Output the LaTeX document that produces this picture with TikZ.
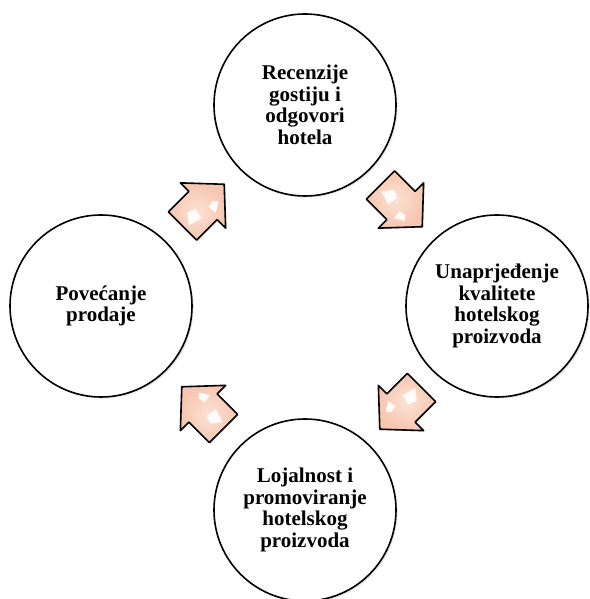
\documentclass[tikz,border=0pt]{standalone}
\usepackage{fontspec}
\setmainfont{Liberation Serif}
\usetikzlibrary{shadows,calc}
\definecolor{peach}{RGB}{246,198,176}
\definecolor{peachlight}{RGB}{252,226,212}
\tikzset{
  stage/.style={circle, draw=black, line width=1.6pt, fill=white,
    minimum size=182pt, inner sep=0pt, align=center,
    font=\fontsize{21}{21.5}\selectfont\bfseries,
    drop shadow={opacity=0.22, shadow xshift=1.6pt, shadow yshift=-1.6pt}},
  glint/.style={fill=white, opacity=0.92},
  cyclearrow/.pic={
    \draw[line width=1.6pt, line join=round, inner color=peachlight, outer color=peach,
          drop shadow={opacity=0.2, shadow xshift=1pt, shadow yshift=-1pt}]
      (-29,-20) -- (0,-20) -- (0,-32) -- (30,0) -- (0,32) -- (0,20) -- (-29,20) -- cycle;
    \fill[glint] (-24,-4) -- (-10,-8) -- (-8,3) -- (-16,6) -- cycle;
    \fill[glint] (4,-14) -- (14,-8) -- (10,-4) -- (3,-5) -- cycle;
  }
}
\begin{document}
\begin{tikzpicture}[x=1pt,y=1pt]
\useasboundingbox (0,0) rectangle (589,599);
\node[stage] (nTop) at (305,494) {Recenzije\\gostiju i\\odgovori\\hotela};
\node[stage] (nRight) at (497,293) {Unaprjeđenje\\kvalitete\\hotelskog\\proizvoda};
\node[stage] (nBottom) at (305,89) {Lojalnost i\\promoviranje\\hotelskog\\proizvoda};
\node[stage] (nLeft) at (101,293) {Povećanje\\prodaje};
\pic[rotate=45] at ($(nLeft)!0.5!(nTop)$) {cyclearrow};
\pic[rotate=-45] at ($(nTop)!0.5!(nRight)$) {cyclearrow};
\pic[rotate=-135] at ($(nRight)!0.5!(nBottom)$) {cyclearrow};
\pic[rotate=135] at ($(nBottom)!0.5!(nLeft)$) {cyclearrow};
\end{tikzpicture}
\end{document}
